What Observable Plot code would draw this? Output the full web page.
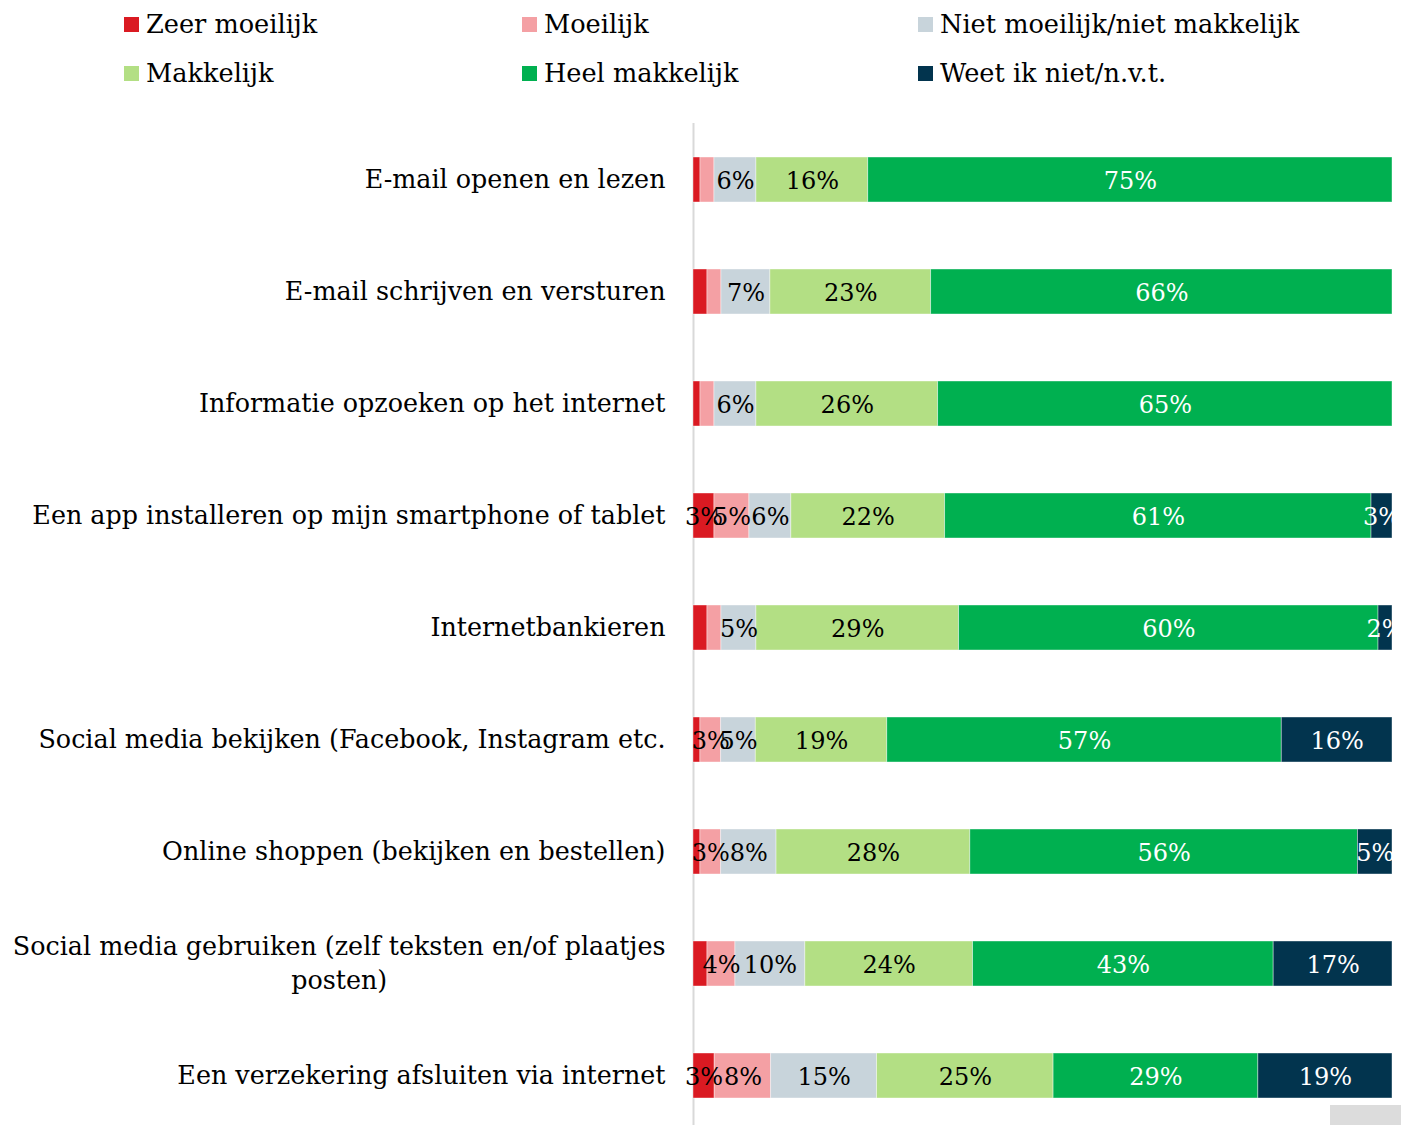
<!DOCTYPE html>
<html>
<head>
<meta charset="utf-8">
<script src="https://cdn.jsdelivr.net/npm/d3@7"></script>
<script src="https://cdn.jsdelivr.net/npm/@observablehq/plot@0.6"></script>
<style>
  html, body { margin: 0; padding: 0; background: #fff; }
  #wrap { position: relative; width: 1401px; height: 1125px; overflow: hidden; font-family: "DejaVu Serif", serif; }
  #legend { position: relative; height: 123px; }
  .li { position: absolute; display: flex; align-items: center; font-size: 25.6px; color: #000; white-space: nowrap; }
  .sw { width: 15px; height: 15px; margin-right: 7px; }
  #chart svg { display: block; overflow: visible; }
  #corner { position: absolute; left: 1330px; top: 1105px; width: 71px; height: 20px; background: #dcdcdc; }
</style>
</head>
<body>
<div id="wrap">
  <div id="legend"></div>
  <div id="chart"></div>
  <div id="corner"></div>
</div>
<script>
const categories = [
  "E-mail openen en lezen",
  "E-mail schrijven en versturen",
  "Informatie opzoeken op het internet",
  "Een app installeren op mijn smartphone of tablet",
  "Internetbankieren",
  "Social media bekijken (Facebook, Instagram etc.",
  "Online shoppen (bekijken en bestellen)",
  "Social media gebruiken (zelf teksten en/of plaatjes posten)",
  "Een verzekering afsluiten via internet"
];
const seriesNames = ["Zeer moeilijk", "Moeilijk", "Niet moeilijk/niet makkelijk", "Makkelijk", "Heel makkelijk", "Weet ik niet/n.v.t."];
const seriesColors = ["#DA1A22", "#F4A0A4", "#C8D4DB", "#B3DF84", "#00B050", "#02344E"];

const zeerMoeilijk  = [1, 2, 1, 3, 2, 1, 1, 2, 3];
const moeilijk      = [2, 2, 2, 5, 2, 3, 3, 4, 8];
const neutraal      = [6, 7, 6, 6, 5, 5, 8, 10, 15];
const makkelijk     = [16, 23, 26, 22, 29, 19, 28, 24, 25];
const heelMakkelijk = [75, 66, 65, 61, 60, 57, 56, 43, 29];
const weetNiet      = [0, 0, 0, 3, 2, 16, 5, 17, 19];

const seriesValues = [zeerMoeilijk, moeilijk, neutraal, makkelijk, heelMakkelijk, weetNiet];
const data = [];
categories.forEach((cat, i) => {
  seriesNames.forEach((s, j) => {
    data.push({cat, series: s, value: seriesValues[j][i]});
  });
});

const darkSeries = new Set(["Heel makkelijk", "Weet ik niet/n.v.t."]);
const showLabel = d => d.value > 0 && (d.value >= 3 || d.series === "Weet ik niet/n.v.t.");

// Legend
const legend = document.getElementById("legend");
const colX = [124, 522, 918];
const rowY = [24, 73];
seriesNames.forEach((s, j) => {
  const item = document.createElement("div");
  item.className = "li";
  item.style.left = colX[j % 3] + "px";
  item.style.top = (rowY[Math.floor(j / 3)] - 17) + "px";
  item.style.height = "34px";
  const sw = document.createElement("div");
  sw.className = "sw";
  sw.style.background = seriesColors[j];
  const t = document.createElement("span");
  t.textContent = s;
  item.appendChild(sw);
  item.appendChild(t);
  legend.appendChild(item);
});

const stackOpts = {x: "value", y: "cat", z: "series", offset: "normalize"};

const chart = Plot.plot({
  width: 1401,
  height: 1009,
  marginLeft: 693,
  marginRight: 9,
  marginTop: 0,
  marginBottom: 0,
  style: {fontFamily: "DejaVu Serif, serif", background: "white", color: "#000", overflow: "visible"},
  x: {domain: [0, 1], axis: null},
  y: {domain: categories, paddingInner: 0.6, paddingOuter: 0.3, label: null, axis: null},
  color: {domain: seriesNames, range: seriesColors},
  marks: [
    Plot.ruleX([0], {stroke: "#d9d9d9", strokeWidth: 2}),
    Plot.barX(data, Plot.stackX({...stackOpts, fill: "series", stroke: "white", strokeWidth: 0.8, strokeOpacity: 0.5})),
    Plot.text(data, Plot.stackX({...stackOpts, text: d => (showLabel(d) && !darkSeries.has(d.series)) ? d.value + "%" : "", fill: "#000", fontSize: 24, dy: 1})),
    Plot.text(data, Plot.stackX({...stackOpts, text: d => (showLabel(d) && darkSeries.has(d.series)) ? d.value + "%" : "", fill: "#fff", fontSize: 24, dy: 1, clip: true})),
    Plot.axisY({
      tickSize: 0,
      tickPadding: 28,
      fontSize: 25.4,
      lineHeight: 1.33,
      dy: -3,
      fill: "#000",
      tickFormat: d => d.replace(" posten)", "\nposten)")
    })
  ]
});
document.getElementById("chart").appendChild(chart);

// Center the wrapped second line under the first line (as in the original)
chart.querySelectorAll("text").forEach(t => {
  const spans = t.querySelectorAll("tspan");
  if (spans.length === 2) {
    const len1 = spans[0].getComputedTextLength();
    const x0 = +(spans[0].getAttribute("x") || 0);
    spans[1].setAttribute("text-anchor", "middle");
    spans[1].setAttribute("x", x0 - len1 / 2);
  }
});
</script>
</body>
</html>
